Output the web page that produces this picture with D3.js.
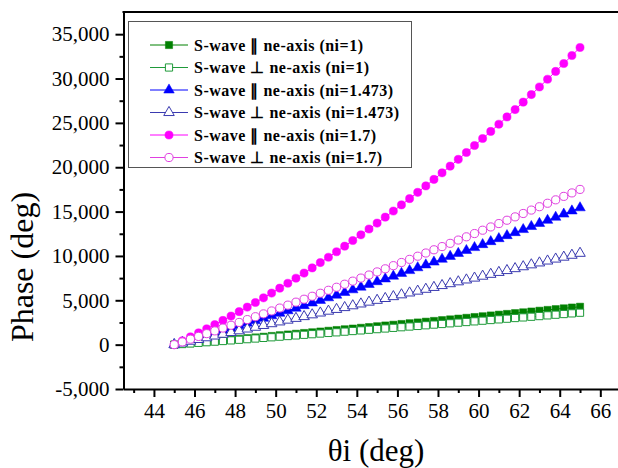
<!DOCTYPE html>
<html><head><meta charset="utf-8"><script src="https://cdn.jsdelivr.net/npm/d3@7"></script></head>
<body style="margin:0">
<script>
// incidence angle (deg)
var theta = [45, 45.4, 45.8, 46.2, 46.6, 47, 47.4, 47.8, 48.2, 48.6, 49, 49.4, 49.8, 50.2, 50.6, 51, 51.4, 51.8,
  52.2, 52.6, 53, 53.4, 53.8, 54.2, 54.6, 55, 55.4, 55.8, 56.2, 56.6, 57, 57.4, 57.8, 58.2, 58.6, 59, 59.4, 59.8,
  60.2, 60.6, 61, 61.4, 61.8, 62.2, 62.6, 63, 63.4, 63.8, 64.2, 64.6, 65];

// phase (deg)
var parN1 = [0, 80, 160, 240, 320, 400, 480, 565, 645, 730, 810, 890, 975, 1060, 1140, 1225, 1310, 1390,
  1475, 1560, 1645, 1730, 1810, 1895, 1980, 2070, 2155, 2240, 2325, 2410, 2495, 2585, 2670, 2760, 2845, 2930, 3020, 3110,
  3195, 3285, 3375, 3460, 3550, 3640, 3730, 3820, 3910, 4000, 4090, 4180, 4270];
var perpN1 = [0, 70, 135, 205, 275, 340, 410, 480, 550, 620, 690, 760, 830, 900, 970, 1040, 1110, 1180,
  1250, 1320, 1390, 1465, 1535, 1605, 1680, 1750, 1820, 1895, 1965, 2040, 2110, 2185, 2260, 2330, 2405, 2480, 2550, 2625,
  2700, 2775, 2850, 2925, 3000, 3070, 3145, 3220, 3300, 3375, 3450, 3525, 3600];
var parN1473 = [0, 260, 525, 785, 1055, 1320, 1590, 1865, 2140, 2415, 2690, 2970, 3255, 3540, 3825, 4110, 4400, 4695,
  4990, 5285, 5580, 5880, 6185, 6485, 6790, 7100, 7410, 7720, 8035, 8350, 8670, 8990, 9310, 9630, 9955, 10285, 10615, 10945,
  11280, 11615, 11950, 12290, 12630, 12975, 13320, 13665, 14015, 14365, 14720, 15075, 15430];
var perpN1473 = [0, 195, 390, 585, 780, 975, 1175, 1370, 1565, 1765, 1965, 2165, 2365, 2565, 2765, 2965, 3165, 3365,
  3570, 3775, 3975, 4180, 4385, 4590, 4795, 5000, 5205, 5415, 5620, 5830, 6035, 6245, 6455, 6665, 6875, 7085, 7295, 7505,
  7720, 7930, 8145, 8355, 8570, 8785, 9000, 9215, 9430, 9650, 9865, 10080, 10300];
var parN17 = [0, 430, 870, 1320, 1780, 2250, 2730, 3220, 3720, 4230, 4750, 5275, 5815, 6365, 6920, 7490, 8065, 8650,
  9250, 9855, 10470, 11100, 11735, 12380, 13035, 13700, 14375, 15060, 15755, 16460, 17170, 17895, 18630, 19370, 20125, 20890, 21660, 22445,
  23235, 24035, 24850, 25670, 26500, 27340, 28190, 29050, 29920, 30800, 31690, 32590, 33500];
var perpN17 = [0, 305, 615, 925, 1240, 1550, 1870, 2185, 2505, 2825, 3150, 3470, 3800, 4125, 4455, 4790, 5120, 5455,
  5795, 6130, 6470, 6815, 7160, 7505, 7850, 8200, 8550, 8905, 9260, 9615, 9970, 10330, 10695, 11055, 11420, 11790, 12155, 12525,
  12900, 13270, 13650, 14025, 14405, 14785, 15170, 15550, 15940, 16325, 16715, 17105, 17500];

var seriesNames = ["S-wave \u2225 ne-axis (ni=1)", "S-wave \u22a5 ne-axis (ni=1)",
  "S-wave \u2225 ne-axis (ni=1.473)", "S-wave \u22a5 ne-axis (ni=1.473)",
  "S-wave \u2225 ne-axis (ni=1.7)", "S-wave \u22a5 ne-axis (ni=1.7)"];
var seriesValues = [parN1, perpN1, parN1473, perpN1473, parN17, perpN17];

var xTicks = [44, 46, 48, 50, 52, 54, 56, 58, 60, 62, 64, 66];
var xMinor = [43, 45, 47, 49, 51, 53, 55, 57, 59, 61, 63, 65];
var yTicks = [-5000, 0, 5000, 10000, 15000, 20000, 25000, 30000, 35000];
var yMinor = [-2500, 2500, 7500, 12500, 17500, 22500, 27500, 32500];

var styles = [
  {color: "#008000", shape: d3.symbolSquare, size: 52, filled: true},
  {color: "#1f9a3a", shape: d3.symbolSquare, size: 52, filled: false},
  {color: "#0000ff", shape: d3.symbolTriangle, size: 48, filled: true},
  {color: "#3a3ab0", shape: d3.symbolTriangle, size: 48, filled: false},
  {color: "#ff00ff", shape: d3.symbolCircle, size: 52, filled: true},
  {color: "#e040e0", shape: d3.symbolCircle, size: 52, filled: false}
];

var W = 618, H = 468;
var serif = "'Liberation Serif'";
var svg = d3.select("body").append("svg").attr("width", W).attr("height", H)
  .style("display", "block").style("font-family", serif);

var x = d3.scaleLinear().domain([42.5, 67]).range([123.5, 620.6]);
var y = d3.scaleLinear().domain([-5000, 37500]).range([389, 12]);

// plain text helper, same way for every label
function label(parent, str, size) {
  return parent.append("text").attr("font-size", size).style("font-family", serif).text(str);
}

// axes (drawn by d3, labels restyled)
var fmt = function(v) { return d3.format(",")(v).replace("\u2212", "-"); };
function styleAxis(g) {
  g.attr("font-family", serif).attr("font-size", 21);
  g.select(".domain").attr("stroke-width", 2);
  g.selectAll("line").attr("stroke-width", 2);
  g.selectAll("text").attr("fill", "#000").style("font-family", serif);
}
svg.append("g")
  .attr("transform", "translate(0,389)")
  .call(d3.axisBottom(x).tickValues(xTicks).tickSize(8).tickSizeOuter(0).tickPadding(6))
  .call(styleAxis);
svg.append("g")
  .attr("transform", "translate(0,389)")
  .call(d3.axisBottom(x).tickValues(xMinor).tickSize(4).tickFormat("").tickSizeOuter(0))
  .call(styleAxis)
  .call(function(g) { g.select(".domain").remove(); });

svg.append("g")
  .attr("transform", "translate(123.5,0)")
  .call(d3.axisLeft(y).tickValues(yTicks).tickFormat(fmt).tickSize(8).tickSizeOuter(0).tickPadding(6))
  .call(styleAxis);
svg.append("g")
  .attr("transform", "translate(123.5,0)")
  .call(d3.axisLeft(y).tickValues(yMinor).tickSize(4).tickFormat("").tickSizeOuter(0))
  .call(styleAxis)
  .call(function(g) { g.select(".domain").remove(); });

// top frame
svg.append("line")
  .attr("x1", 122.5).attr("x2", W).attr("y1", 12).attr("y2", 12)
  .attr("stroke", "#000").attr("stroke-width", 2);

// series
var line = d3.line()
  .x(function(d) { return x(d[0]); })
  .y(function(d) { return y(d[1]); });

seriesValues.forEach(function(vals, i) {
  var st = styles[i];
  var pts = theta.map(function(t, j) { return [t, vals[j]]; });
  var g = svg.append("g");
  g.append("path")
    .datum(pts)
    .attr("d", line)
    .attr("fill", "none")
    .attr("stroke", st.color)
    .attr("stroke-width", 1);
  g.selectAll("path.mark")
    .data(pts)
    .enter()
    .append("path")
    .attr("class", "mark")
    .attr("transform", function(d) { return "translate(" + x(d[0]) + "," + y(d[1]) + ")"; })
    .attr("d", d3.symbol().type(st.shape).size(st.size))
    .attr("fill", st.filled ? st.color : "#fff")
    .attr("stroke", st.color)
    .attr("stroke-width", st.filled ? 0.5 : 1);
});

// legend
var legend = svg.append("g");
legend.append("rect")
  .attr("x", 128.5).attr("y", 21.5).attr("width", 283).attr("height", 146)
  .attr("fill", "#fff").attr("stroke", "#555").attr("stroke-width", 1);

seriesNames.forEach(function(name, i) {
  var st = styles[i];
  var ly = 45 + i * 22.5;
  legend.append("line")
    .attr("x1", 150).attr("x2", 188).attr("y1", ly).attr("y2", ly)
    .attr("stroke", st.color).attr("stroke-width", 1);
  legend.append("path")
    .attr("transform", "translate(169," + ly + ")")
    .attr("d", d3.symbol().type(st.shape).size(st.size))
    .attr("fill", st.filled ? st.color : "#fff")
    .attr("stroke", st.color)
    .attr("stroke-width", st.filled ? 0.5 : 1);
  label(legend, name, 16)
    .attr("x", 194).attr("y", ly + 5.5)
    .attr("font-weight", "bold")
    .attr("letter-spacing", 0.5);
});

// axis titles
label(svg, "Phase (deg)", 32)
  .attr("transform", "translate(33,267) rotate(-90)")
  .attr("text-anchor", "middle");

label(svg, "\u03b8i (deg)", 31)
  .attr("x", 376).attr("y", 461)
  .attr("text-anchor", "middle");
</script>
</body>
</html>
